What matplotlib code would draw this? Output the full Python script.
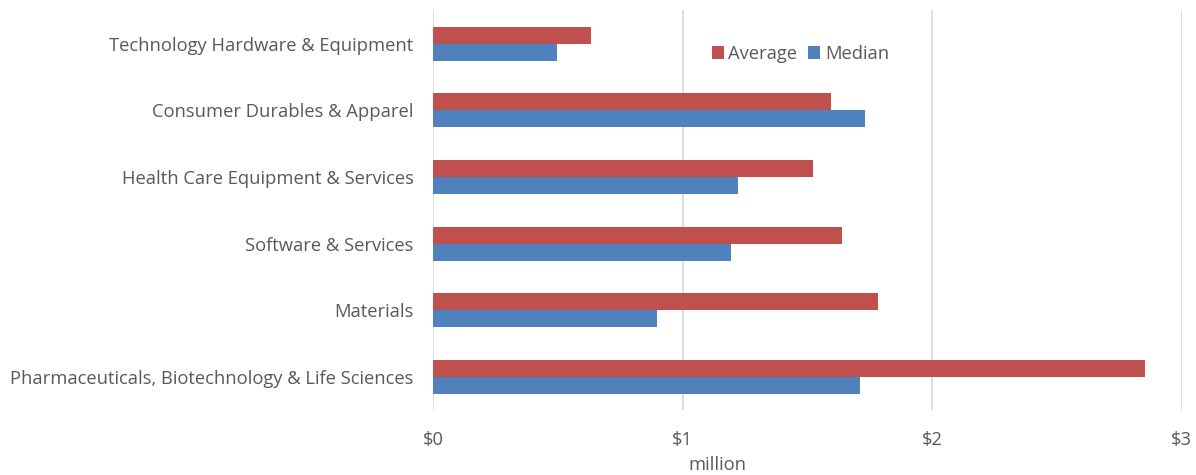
import matplotlib.pyplot as plt
import numpy as np

categories = [
    "Technology Hardware & Equipment",
    "Consumer Durables & Apparel",
    "Health Care Equipment & Services",
    "Software & Services",
    "Materials",
    "Pharmaceuticals, Biotechnology & Life Sciences",
]
average = [0.633, 1.593, 1.521, 1.639, 1.782, 2.855]
median = [0.497, 1.731, 1.224, 1.196, 0.898, 1.710]
xticks = [0, 1, 2, 3]
xtick_labels = ["$0", "$1", "$2", "$3"]

RED = "#C0504D"
BLUE = "#4F81BD"
TEXT = "#595959"
FS = 13.2

plt.rcParams["font.family"] = ["Open Sans", "DejaVu Sans"]

fig = plt.figure(figsize=(11.96, 4.75), dpi=100)
ax = fig.add_axes([0.362, 0.137, 0.626, 0.842])

y = np.arange(len(categories))
h = 0.255
ax.barh(y - h / 2, average, height=h, color=RED, label="Average", zorder=3)
ax.barh(y + h / 2, median, height=h, color=BLUE, label="Median", zorder=3)

ax.set_xlim(0, 3)
ax.set_ylim(5.5, -0.51)
ax.set_xticks(xticks)
ax.set_xticklabels(xtick_labels, fontsize=FS, color=TEXT)
ax.set_yticks(y)
ax.set_yticklabels(categories, fontsize=FS, color=TEXT)
ax.tick_params(axis="both", length=0)
ax.tick_params(axis="y", pad=14)
ax.tick_params(axis="x", pad=15)
ax.grid(axis="x", color="#d9d9d9", linewidth=1.2, zorder=0)
for s in ax.spines.values():
    s.set_visible(False)

ax.text(0.38, -0.115, "million", transform=ax.transAxes, ha="center", va="top",
        fontsize=FS, color=TEXT)

ax.legend(loc="center", bbox_to_anchor=(0.491, 0.89), ncol=2, frameon=False,
          fontsize=FS, labelcolor=TEXT, handlelength=0.65, handleheight=0.65,
          handletextpad=0.25, columnspacing=0.6)

fig.savefig("out.png", dpi=100)
